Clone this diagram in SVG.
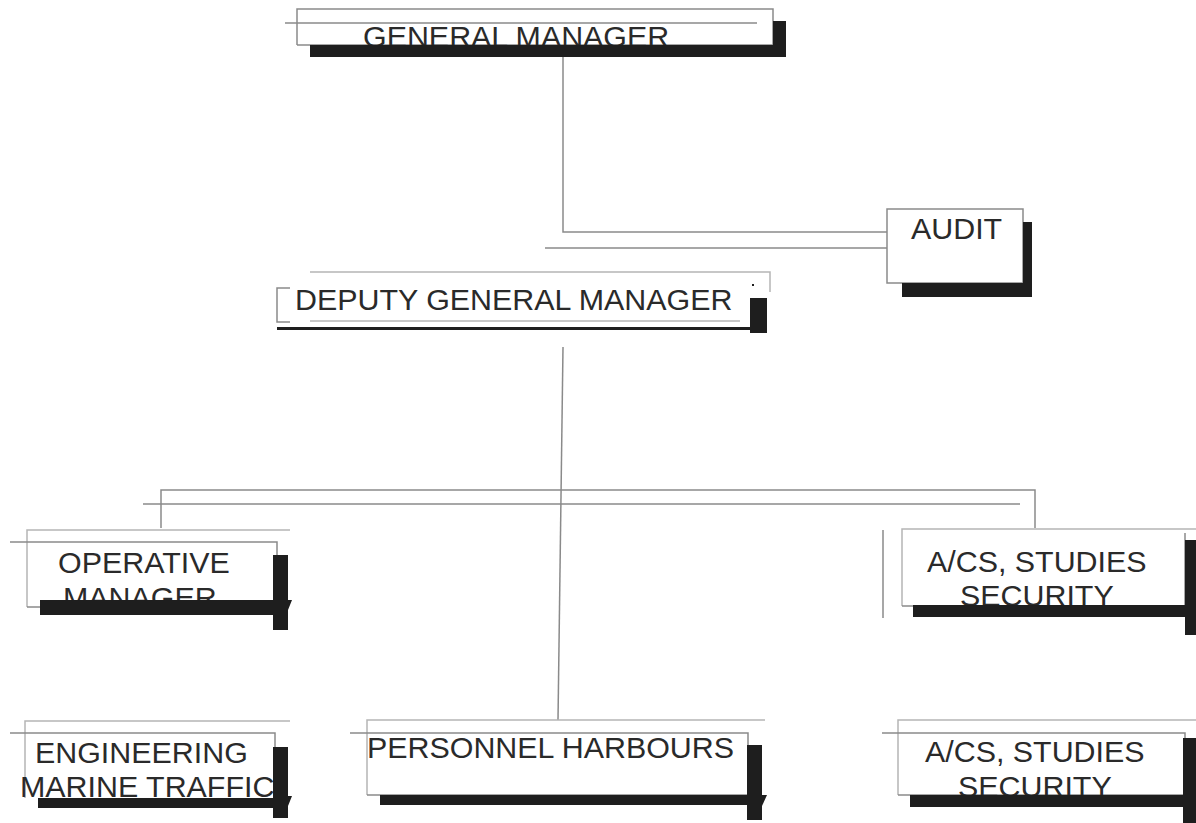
<svg xmlns="http://www.w3.org/2000/svg" width="1196" height="823" viewBox="0 0 1196 823">
<style>
.ln{stroke:#8a8a8a;stroke-width:1.5;fill:none}
.lt{stroke:#b5b5b5;stroke-width:1.5;fill:none}
.sh{fill:#1e1e1e}
.tx{font-family:"Liberation Sans",Arial,sans-serif;font-size:30.4px;fill:#2a2a2a}
</style>
<rect width="1196" height="823" fill="#ffffff"/>
<g id="connectors">
<path class="ln" d="M563 57 V232 H887"/>
<path class="ln" d="M545 248 H887"/>
<path class="ln" d="M563 347 L558 720"/>
<path class="ln" d="M161 528 V490 H1035 V528"/>
<path class="ln" d="M143 504 H1020"/>
</g>
<g id="general-manager">
<path class="ln" d="M297 45 V9 H773 V45 H297"/>
<path class="ln" d="M285 23 H757"/>
<text class="tx" x="363" y="47">GENERAL MANAGER</text>
<rect class="sh" x="310" y="45" width="476" height="12"/>
<rect class="sh" x="773" y="21" width="13" height="36"/>
</g>
<g id="audit">
<rect class="ln" x="887" y="209" width="136" height="74" fill="#fff"/>
<text class="tx" x="911" y="239">AUDIT</text>
<rect class="sh" x="902" y="283" width="130" height="14"/>
<rect class="sh" x="1023" y="222" width="9" height="75"/>
</g>
<g id="deputy-general-manager">
<path class="lt" d="M310 272 H770 V292"/>
<path class="ln" d="M290 288 H277 V322 H290"/>
<path class="lt" d="M310 321 H740"/>
<text class="tx" x="295" y="310">DEPUTY GENERAL MANAGER</text>
<rect class="sh" x="277" y="327" width="488" height="3"/>
<rect class="sh" x="750" y="298" width="17" height="35"/>
<rect class="sh" x="752" y="284" width="2" height="2"/>
</g>
<g id="operative-manager">
<path class="lt" d="M27 607 V530 H290"/>
<path class="ln" d="M10 542 H277 V607 H27"/>
<text class="tx" x="58" y="573">OPERATIVE</text>
<text class="tx" x="63" y="608">MANAGER</text>
<rect class="sh" x="40" y="600" width="237" height="15"/>
<rect class="sh" x="273" y="555" width="15" height="75"/>
<path class="sh" d="M288 600 L292 600 L288 610 Z"/>
</g>
<g id="acs-studies-security-1">
<path class="ln" d="M883 530 V618"/>
<path class="lt" d="M902 606 V529 H1196"/>
<path class="ln" d="M902 606 H1185 V533"/>
<text class="tx" x="927" y="572">A/CS, STUDIES</text>
<text class="tx" x="960" y="606">SECURITY</text>
<rect class="sh" x="913" y="605" width="272" height="12"/>
<rect class="sh" x="1185" y="540" width="11" height="95"/>
</g>
<g id="engineering-marine-traffic">
<path class="lt" d="M25 798 V721 H290"/>
<path class="ln" d="M10 733 H275 V798"/>
<text class="tx" x="35" y="763">ENGINEERING</text>
<text class="tx" x="20" y="797">MARINE TRAFFIC</text>
<rect class="sh" x="38" y="798" width="237" height="10"/>
<rect class="sh" x="273" y="747" width="15" height="71"/>
<path class="sh" d="M288 796 L292 796 L288 806 Z"/>
</g>
<g id="personnel-harbours">
<path class="lt" d="M367 795 V720 H765"/>
<path class="ln" d="M350 733 H748 V795 H367"/>
<text class="tx" x="367" y="758">PERSONNEL HARBOURS</text>
<rect class="sh" x="380" y="795" width="368" height="10"/>
<rect class="sh" x="747" y="745" width="15" height="75"/>
<path class="sh" d="M762 795 L767 795 L762 806 Z"/>
</g>
<g id="acs-studies-security-2">
<path class="lt" d="M898 795 V720 H1196"/>
<path class="ln" d="M882 733 H1185 V795 H898"/>
<text class="tx" x="925" y="762">A/CS, STUDIES</text>
<text class="tx" x="958" y="797">SECURITY</text>
<rect class="sh" x="910" y="795" width="275" height="12"/>
<rect class="sh" x="1183" y="738" width="13" height="85"/>
</g>
</svg>
